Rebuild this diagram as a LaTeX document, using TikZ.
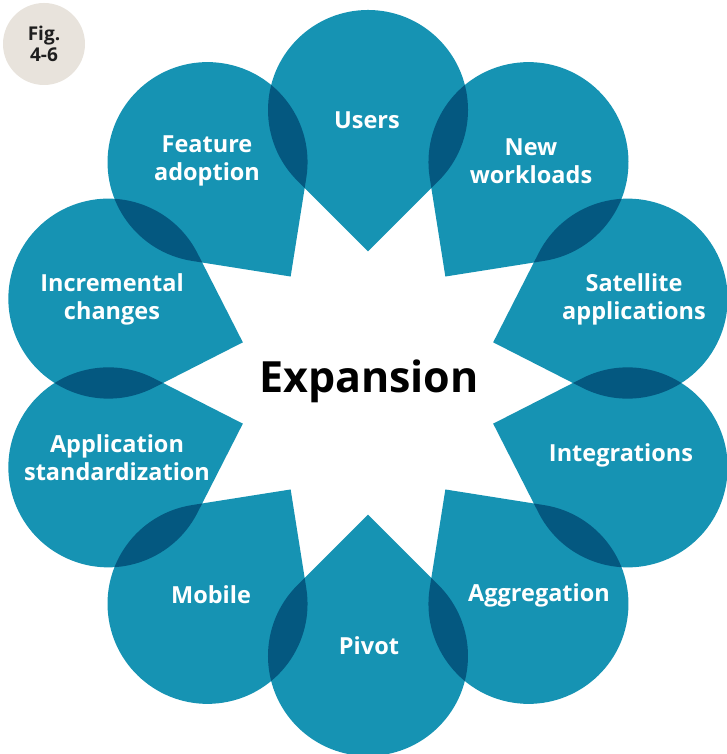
\documentclass[tikz,border=0pt]{standalone}
\usepackage{fontspec}
\setmainfont{Open Sans}
\definecolor{petal}{RGB}{22,147,179}
\definecolor{lens}{RGB}{4,88,128}
\definecolor{badge}{RGB}{232,227,220}
\definecolor{badgetext}{RGB}{30,30,30}
\tikzset{
  lbl/.style={text=white, font=\fontsize{23.5}{28}\selectfont\bfseries, align=center, inner sep=0pt},
}
\begin{document}
\begin{tikzpicture}[x=1pt,y=1pt]
\useasboundingbox (0,0) rectangle (726,754);
\coordinate (O) at (368,371);
% petals
\foreach \a in {90,54,18,-18,-54,-90,-126,-162,-198,-234}{
  \fill[petal, shift={(O)}, rotate=\a] (131.6,0) -- (202.3,70.7) arc[start angle=135, end angle=-135, radius=100] -- cycle;
}
% overlaps
\foreach \a in {90,54,18,-18,-54,-90,-126,-162,-198,-234}{
  \begin{scope}
    \clip[shift={(O)}, rotate=\a] (131.6,0) -- (202.3,70.7) arc[start angle=135, end angle=-135, radius=100] -- cycle;
    \fill[lens, shift={(O)}, rotate={\a-36}] (131.6,0) -- (202.3,70.7) arc[start angle=135, end angle=-135, radius=100] -- cycle;
  \end{scope}
}
% labels
\node[lbl] (users) at (367,634) {Users};
\node[lbl] (neww) at (531,593) {New\\workloads};
\node[lbl] (sat) at (634,455) {Satellite\\applications};
\node[lbl] (integ) at (621,299) {Integrations};
\node[lbl] (aggr) at (539,159) {Aggregation};
\node[lbl] (pivot) at (369,108) {Pivot};
\node[lbl] (mobile) at (211,159) {Mobile};
\node[lbl] (appstd) at (117,296) {Application\\standardization};
\node[lbl] (incr) at (112,455) {Incremental\\changes};
\node[lbl] (feat) at (207,593) {Feature\\adoption};
\node[font=\fontsize{43}{50}\selectfont\bfseries, text=black, inner sep=0pt] (exp) at (369,373) {Expansion};
% badge
\fill[badge] (44,710) circle[radius=41];
\node[font=\fontsize{19}{21}\selectfont\bfseries, text=badgetext, align=center, inner sep=0pt] (fig) at (44,710) {Fig.\\4-6};
\end{tikzpicture}
\end{document}
